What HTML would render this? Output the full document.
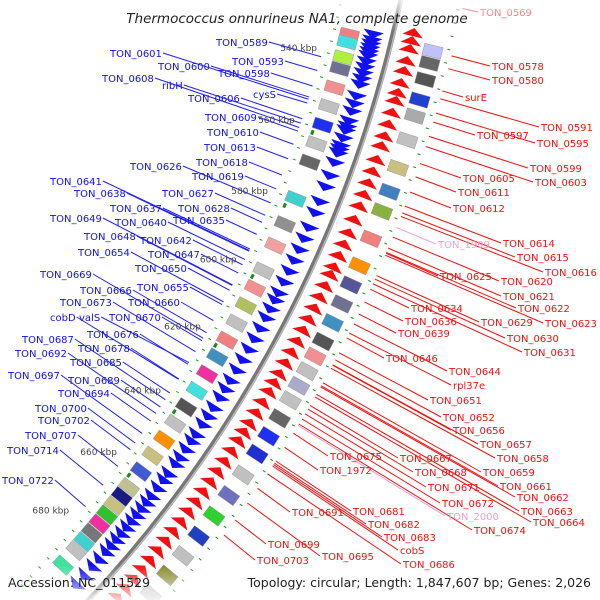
<!DOCTYPE html>
<html><head><meta charset="utf-8">
<style>
html,body{margin:0;padding:0;background:#fff;overflow:hidden;width:600px;height:600px;}
svg{display:block;font-family:"DejaVu Sans","Liberation Sans",sans-serif;overflow:hidden;}
</style></head>
<body>
<svg id="chart" width="600" height="600" viewBox="0 0 600 600" xmlns="http://www.w3.org/2000/svg">
<defs>
<linearGradient id="fadeTop" x1="0" y1="0" x2="0" y2="1">
<stop offset="0" stop-color="#fff" stop-opacity="0.85"/><stop offset="1" stop-color="#fff" stop-opacity="0"/>
</linearGradient>
<linearGradient id="fadeBot" x1="0" y1="0" x2="0" y2="1">
<stop offset="0" stop-color="#fff" stop-opacity="0"/><stop offset="1" stop-color="#fff" stop-opacity="0.8"/>
</linearGradient>
<clipPath id="frame"><rect x="0" y="0" width="600" height="600"/></clipPath>
</defs>
<g clip-path="url(#frame)">
<g id="layer-lines"></g>
<g id="layer-feat"></g>
<g id="layer-labels"></g>
<rect x="0" y="0" width="600" height="30" fill="url(#fadeTop)"/>
<rect x="0" y="565" width="600" height="35" fill="url(#fadeBot)"/>
<text x="297" y="23" font-size="13.5" font-style="italic" text-anchor="middle" fill="#222">Thermococcus onnurineus NA1, complete genome</text>
<text x="8" y="587" font-size="12.5" fill="#222">Accession: NC_011529</text>
<text x="591" y="587" font-size="12.5" text-anchor="end" fill="#222">Topology: circular; Length: 1,847,607 bp; Genes: 2,026</text>
</g>
</svg>
<script>
// ---- data ----
const tickKbp = [540,560,580,600,620,640,660,680];
const fwdArrowKbp = [531,532.5,533.5,534.5,535.5,536.5,538,539.5,541,542.5,544,547,549,551,553.5,555,556,558,560,561,562,564.5,568,571,575,578,582,585,588,591,594,597,600,602,604.5,607,610,613,616,619,622,625,627.5,630,633,635.5,638,641,643,645.5,648,650,653,655,657.5,660,662,664,666,668,670,672,674,676,678,680.5,683,686,689];
const revArrowKbp = [528,530,532,535,537.5,540.5,543,545,548,551,554,556.5,560,563,566,569,572,575.5,579,582,585,588,590,593,596,599,602,605,608,611,614,617,619.5,622,625,628,631,633.5,636,639,642,645,648,651,654,657,660,663,666,669,672,675,678,681,684,687,690];
const fwdBoxKbp = [532,534,538,541,546,551,556,561,566,576,583,589,596,601,606,611,616,621,626,631,636,641,646,651,656,661,664,667,670,673,676,679,682,687];
const fwdBoxColor = ["#f08080","#40e0e0","#b0f040","#707090","#f09090","#c0c0c0","#2030f0","#c0c0c0","#666666","#40d0d0","#909090","#f0a0a0","#c0c0c0","#f09090","#b0c060","#c0c0c0","#f08080","#4090c0","#f030a0","#40e0e0","#555555","#c0c0c0","#ff9000","#c8c080","#405ad0","#c0c090","#1a1a80","#c8c080","#30c030","#f030a0","#777777","#40d0d0","#c0c0c0","#40e0a0"];
const revBoxKbp = [531,534,538,543,547,553,560,566,571,578,585,590,595,600,605,609,613,617,621,626,631,636,642,648,654,660,666,672,678,684,689];
const revBoxColor = ["#c0c0ff","#666666","#555555","#2040d0","#aaaaaa","#c0c0c0","#c8c080","#4080c0","#8ab040","#f08080","#ff9000","#555599","#707090","#4090c0","#555555","#f09090","#c0c0c0","#aaaacc","#c0c0c0","#666666","#2030f0","#2030d0","#c0c0c0","#7070c0","#30d030","#2040c0","#c0c0c0","#8a8a30","#c0c0c0","#505050","#80b040"];
const leftNames = ["TON_0589","TON_0593","TON_0601","TON_0600","TON_0598","TON_0608","ribH","cysS","TON_0606","TON_0609","TON_0610","TON_0613","TON_0626","TON_0618","TON_0619","TON_0641","TON_0638","TON_0627","TON_0637","TON_0628","TON_0649","TON_0640","TON_0635","TON_0648","TON_0642","TON_0654","TON_0647","TON_0650","TON_0669","TON_0655","TON_0666","TON_0673","TON_0660","cobD","valS","TON_0670","TON_0676","TON_0687","TON_0678","TON_0692","TON_0685","TON_0697","TON_0689","TON_0694","TON_0700","TON_0702","TON_0707","TON_0714","TON_0722"];
const leftKbp = [540.7,544.4,552.2,551.6,548.6,559.9,558.7,553.2,557.5,560.9,564.5,568.5,580.8,573.0,576.9,594.3,594.5,584.3,593.9,586.3,604.2,596.9,589.7,604.4,598.4,609.2,600.8,605.8,620.0,610.0,618.3,624.0,614.7,632.4,627.3,620.7,627.8,638.7,632.3,643.0,636.6,649.3,641.0,645.4,652.4,654.5,659.9,666.1,673.3];
const leftX = [216,232,110,158,218,102,162,253,188,205,207,204,130,196,192,50,74,162,110,178,50,115,173,84,140,78,148,135,40,137,80,60,128,50,79,109,87,22,78,15,70,8,68,58,35,38,25,7,2];
const leftY = [42,61,53,66,73,78,85,94,98,117,132,147,166,162,176,181,193,193,208,208,218,222,220,236,240,252,254,268,274,287,290,302,302,317,317,317,334,339,348,353,362,375,380,393,408,420,435,450,480];
const rightNames = ["TON_0569","TON_0578","TON_0580","surE","TON_0591","TON_0597","TON_0595","TON_0599","TON_0605","TON_0603","TON_0611","TON_0612","TON_1999","TON_0614","TON_0615","TON_0620","TON_0616","TON_0625","TON_0621","TON_0622","TON_0634","TON_0629","TON_0623","TON_0636","TON_0630","TON_0639","TON_0631","TON_0646","TON_0644","rpl37e","TON_0651","TON_0652","TON_0656","TON_0657","TON_0658","TON_0675","TON_0667","TON_1972","TON_0659","TON_0668","TON_0661","TON_0671","TON_0662","TON_0672","TON_2000","TON_0681","TON_0663","TON_0674","TON_0691","TON_0682","TON_0664","TON_0683","TON_0699","cobS","TON_0695","TON_0703","TON_0686"];
const rightKbp = [521.0,532.4,535.5,540.9,542.8,548.5,546.3,552.0,558.7,554.5,562.0,565.8,574.7,569.3,571.0,577.1,571.9,581.2,579.9,581.0,590.4,586.9,581.7,593.7,587.8,596.8,589.0,603.1,599.4,601.8,607.0,608.9,610.3,610.2,611.1,628.7,621.1,632.6,615.0,622.1,615.8,623.4,616.1,624.8,626.6,636.4,618.1,626.2,644.1,637.0,618.8,637.4,653.2,637.8,648.3,657.6,640.0];
const rightX = [480,492,492,465,541,477,537,530,463,535,458,453,438,503,517,501,545,440,503,518,411,481,545,405,507,398,524,386,449,453,430,443,453,480,497,330,400,320,483,415,500,428,517,442,447,353,521,474,292,368,533,384,268,400,322,257,403];
const rightY = [12,66,80,97,127,135,143,168,178,182,192,208,244,243,257,281,272,276,296,308,308,322,323,321,338,333,352,358,371,385,400,417,430,444,458,456,458,470,472,472,486,487,497,503,516,511,511,530,512,524,522,537,544,550,556,560,564];

// ---- geometry ----
const CX=-834, CY=-261, R=1262;
const NS="http://www.w3.org/2000/svg";
function ang(k){return (15.25+(k-540)*0.1846)*Math.PI/180;}
function pt(k,r){const a=ang(k);return [CX+r*Math.cos(a), CY+r*Math.sin(a)];}
function mk(tag,attrs,parent){const e=document.createElementNS(NS,tag);for(const k in attrs)e.setAttribute(k,attrs[k]);parent.appendChild(e);return e;}
function seg(k1,k2,r1,r2){const p=[pt(k1,r1),pt(k2,r1),pt(k2,r2),pt(k1,r2)];return p.map(q=>q[0].toFixed(1)+","+q[1].toFixed(1)).join(" ");}
const gL=document.getElementById("layer-lines"), gF=document.getElementById("layer-feat"), gT=document.getElementById("layer-labels");

function arcPath(r,k1,k2){const a=pt(k1,r),b=pt(k2,r);return `M${a[0]},${a[1]} A${r},${r} 0 0 1 ${b[0]},${b[1]}`;}
const bb1=mk("path",{d:arcPath(R,520,700),stroke:"#777",fill:"none","stroke-width":5},gF);


mk("path",{d:arcPath(R+1.5,520,700),stroke:"#bbb",fill:"none","stroke-width":1.5},gF);

for(let k=520;k<=700;k+=3.2){
  const a=pt(k,R-58), b=pt(k+0.25,R-58);
  const d=mk("line",{x1:a[0],y1:a[1],x2:b[0],y2:b[1],stroke:"#1a9a1a","stroke-width":3},gF);
  
  
  const c=pt(k+1.4,R+58), e2=pt(k+1.65,R+58);
  const d2=mk("line",{x1:c[0],y1:c[1],x2:e2[0],y2:e2[1],stroke:"#1a9a1a","stroke-width":3},gF);
  
  
}
tickKbp.forEach(k=>{
  const a=pt(k-0.6,R-50), b=pt(k+0.6,R-50);
  const t=mk("line",{x1:a[0],y1:a[1],x2:b[0],y2:b[1],stroke:"#1a8a1a","stroke-width":3},gF);
  
  
  const p=pt(k,R-88);
  const tx=mk("text",{x:p[0],y:p[1]+3,"font-size":9,fill:"#444","text-anchor":"middle"},gT);
  tx.textContent=k+" kbp";
  
  
});
fwdArrowKbp.forEach(k=>{
  const p1=pt(k,R-30),p2=pt(k,R-9),p3=pt(k+2,R-19.5);
  const e=mk("polygon",{points:`${p1} ${p2} ${p3}`,fill:"#1010f0"},gF);
  
  
});
revArrowKbp.forEach(k=>{
  const p1=pt(k+2,R+9),p2=pt(k+2,R+30),p3=pt(k,R+19.5);
  const e=mk("polygon",{points:`${p1} ${p2} ${p3}`,fill:"#f01010"},gF);
  
  
});
fwdBoxKbp.forEach((k,i)=>{
  const e=mk("polygon",{points:seg(k,k+2.8,R-52,R-33),fill:fwdBoxColor[i],stroke:"#999","stroke-width":0.5},gF);
  
  
});
revBoxKbp.forEach((k,i)=>{
  const e=mk("polygon",{points:seg(k,k+2.8,R+33,R+52),fill:revBoxColor[i],stroke:"#999","stroke-width":0.5},gF);
  
  
});
leftNames.forEach((n,i)=>{
  const t=mk("text",{x:leftX[i],y:leftY[i]+4,"font-size":10,fill:"#1010f0"},gT);
  t.textContent=n;
  
  
  const w=t.getComputedTextLength?t.getComputedTextLength():n.length*6.4;
  const p=pt(leftKbp[i],R-64);
  const l=mk("line",{x1:leftX[i]+w+1,y1:leftY[i],x2:p[0],y2:p[1],stroke:"#2020f0","stroke-width":1},gL);
  
  
});
rightNames.forEach((n,i)=>{
  const pink = (n==="TON_1999"||n==="TON_2000");
  const col = pink?"#f0a0d0":"#f01010";
  const t=mk("text",{x:rightX[i],y:rightY[i]+4,"font-size":10,fill:col},gT);
  t.textContent=n;
  
  
  const p=pt(rightKbp[i],R+62);
  const l=mk("line",{x1:p[0],y1:p[1],x2:rightX[i]-2,y2:rightY[i],stroke:col,"stroke-width":1},gL);
  
  
});
</script>
</body></html>
